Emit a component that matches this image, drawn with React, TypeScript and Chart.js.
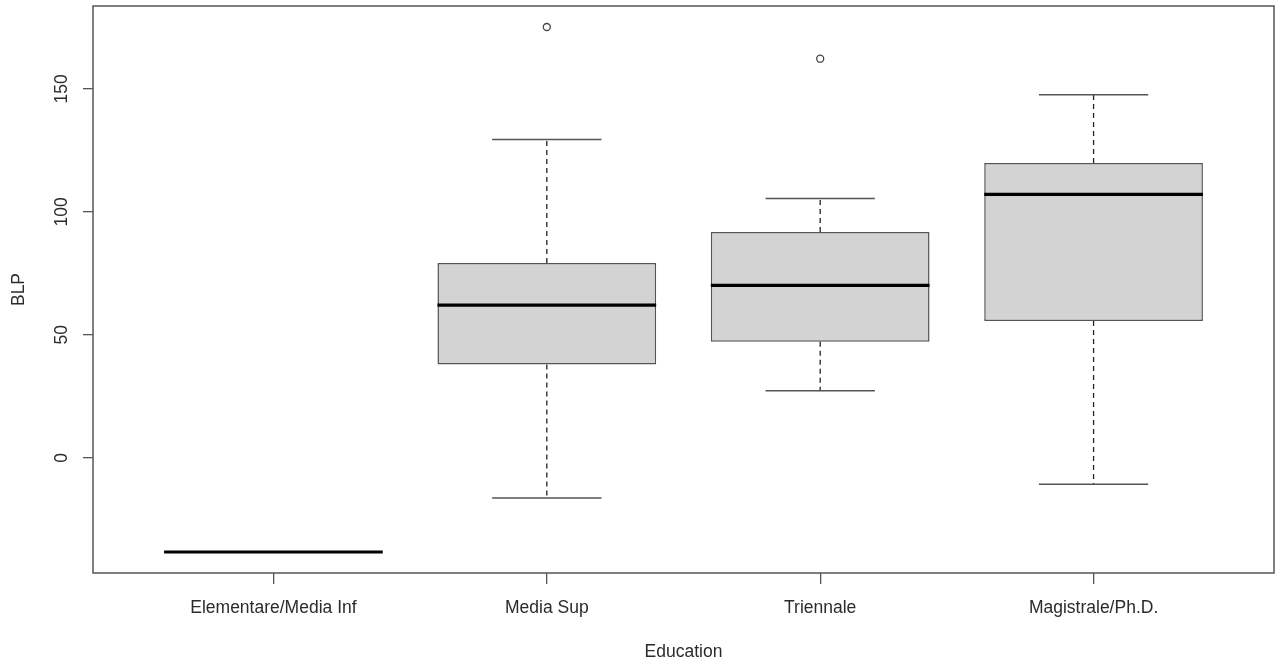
import React, { useEffect, useRef } from "react";
import { Chart, registerables } from "chart.js";

Chart.register(...registerables);

// ---- data ----
const categories = ["Elementare/Media Inf", "Media Sup", "Triennale", "Magistrale/Ph.D."];
const lowerWhisker = [-38.3, -16.3, 27.3, -10.7];
const q1 = [-38.3, 38.0, 47.2, 55.6];
const median = [-38.3, 62.1, 70.1, 107.1];
const q3 = [-38.3, 79.2, 91.8, 119.9];
const upperWhisker = [-38.3, 129.5, 105.5, 147.6];
const outlierGroup = [2, 3];
const outlierValue = [175.2, 162.3];
const yTicks = [0, 50, 100, 150];
const xTitle = "Education";
const yTitle = "BLP";

const FONT = "'Liberation Sans', Arial, sans-serif";
const TEXT = "#2b2b2b";
const LINE = "#555555";

export default function App() {
  const ref = useRef<HTMLCanvasElement | null>(null);

  useEffect(() => {
    if (!ref.current) return;
    const n = categories.length;
    const allVals = [...lowerWhisker, ...upperWhisker, ...outlierValue];
    const dMin = Math.min(...allVals);
    const dMax = Math.max(...allVals);
    const ext = (dMax - dMin) * 0.04;
    const xExt = n * 0.04;

    const boxPlugin = {
      id: "rboxparts",
      afterDatasetsDraw(chart: any) {
        const { ctx, scales, chartArea } = chart;
        const x = scales.x;
        const y = scales.y;
        ctx.save();
        for (let i = 0; i < n; i++) {
          const pos = i + 1;
          const cx = x.getPixelForValue(pos);
          const half = x.getPixelForValue(pos + 0.4) - cx;
          const capHalf = half / 2;
          // whiskers (dashed)
          ctx.strokeStyle = "#222";
          ctx.lineWidth = 1.3;
          ctx.setLineDash([5, 4]);
          if (upperWhisker[i] > q3[i]) {
            ctx.beginPath();
            ctx.moveTo(cx, y.getPixelForValue(q3[i]));
            ctx.lineTo(cx, y.getPixelForValue(upperWhisker[i]));
            ctx.stroke();
          }
          if (lowerWhisker[i] < q1[i]) {
            ctx.beginPath();
            ctx.moveTo(cx, y.getPixelForValue(q1[i]));
            ctx.lineTo(cx, y.getPixelForValue(lowerWhisker[i]));
            ctx.stroke();
          }
          ctx.setLineDash([]);
          // caps
          ctx.strokeStyle = LINE;
          ctx.lineWidth = 1.5;
          if (upperWhisker[i] > q3[i]) {
            const yy = y.getPixelForValue(upperWhisker[i]);
            ctx.beginPath();
            ctx.moveTo(cx - capHalf, yy);
            ctx.lineTo(cx + capHalf, yy);
            ctx.stroke();
          }
          if (lowerWhisker[i] < q1[i]) {
            const yy = y.getPixelForValue(lowerWhisker[i]);
            ctx.beginPath();
            ctx.moveTo(cx - capHalf, yy);
            ctx.lineTo(cx + capHalf, yy);
            ctx.stroke();
          }
          // median
          const my = y.getPixelForValue(median[i]);
          ctx.strokeStyle = "#000";
          ctx.lineWidth = 3.2;
          ctx.beginPath();
          ctx.moveTo(cx - half, my);
          ctx.lineTo(cx + half, my);
          ctx.stroke();
        }
        // plot frame
        ctx.strokeStyle = LINE;
        ctx.lineWidth = 1.5;
        ctx.strokeRect(chartArea.left, chartArea.top, chartArea.right - chartArea.left, chartArea.bottom - chartArea.top);
        ctx.restore();
      },
    };

    const chart = new Chart(ref.current, {
      type: "bar",
      data: {
        datasets: [
          {
            type: "bar",
            data: categories.map((_, i) => ({ x: i + 1, y: [q1[i], q3[i]] })) as any,
            backgroundColor: "#d3d3d3",
            borderColor: LINE,
            borderWidth: 1.5,
            borderSkipped: false,
            categoryPercentage: 1,
            barPercentage: 0.8,
          } as any,
          {
            type: "scatter",
            data: outlierGroup.map((g, k) => ({ x: g, y: outlierValue[k] })),
            pointStyle: "circle",
            pointRadius: 3.5,
            pointBorderWidth: 1.3,
            pointBorderColor: "#444",
            pointBackgroundColor: "rgba(255,255,255,0)",
          } as any,
        ],
      },
      options: {
        responsive: false,
        animation: false,
        events: [],
        layout: { autoPadding: false, padding: { top: 6, right: 1, left: 0, bottom: 0 } },
        plugins: { legend: { display: false }, tooltip: { enabled: false } },
        scales: {
          x: {
            type: "linear",
            offset: false,
            min: 0.5 - xExt,
            max: n + 0.5 + xExt,
            afterBuildTicks: (s: any) => {
              s.ticks = categories.map((_, i) => ({ value: i + 1 }));
            },
            afterFit: (s: any) => {
              s.height = 88;
              s.paddingLeft = 0;
              s.paddingRight = 0;
            },
            grid: { offset: false, drawOnChartArea: false, drawTicks: true, tickLength: 11, color: LINE, lineWidth: 1.3 },
            border: { display: false },
            ticks: {
              autoSkip: false,
              maxRotation: 0,
              minRotation: 0,
              padding: 14,
              color: TEXT,
              font: { family: FONT, size: 17.5 },
              callback: (_v: any, idx: number) => categories[idx],
            },
            title: {
              display: true,
              text: xTitle,
              color: TEXT,
              font: { family: FONT, size: 17.5, lineHeight: 1.0 },
              padding: { top: 0, bottom: 0 },
            },
          },
          y: {
            type: "linear",
            min: dMin - ext,
            max: dMax + ext,
            afterBuildTicks: (s: any) => {
              s.ticks = yTicks.map((v) => ({ value: v }));
            },
            afterFit: (s: any) => {
              s.width = 93;
              s.paddingTop = 0;
              s.paddingBottom = 0;
            },
            grid: { drawOnChartArea: false, drawTicks: true, tickLength: 10, color: LINE, lineWidth: 1.3 },
            border: { display: false },
            ticks: {
              minRotation: 90,
              maxRotation: 90,
              crossAlign: "center",
              padding: 6,
              color: TEXT,
              font: { family: FONT, size: 17.5 },
              callback: (v: any) => String(v),
            },
            title: {
              display: true,
              text: yTitle,
              color: TEXT,
              font: { family: FONT, size: 17.5, lineHeight: 1.2 },
              padding: { top: 9, bottom: 0 },
            },
          },
        },
      },
      plugins: [boxPlugin],
    } as any);

    return () => chart.destroy();
  }, []);

  return (
    <div style={{ position: "fixed", left: 0, top: 0, width: 1275, height: 661, background: "#fff" }}>
      <canvas ref={ref} width={1275} height={661} style={{ display: "block", width: 1275, height: 661 }} />
    </div>
  );
}
